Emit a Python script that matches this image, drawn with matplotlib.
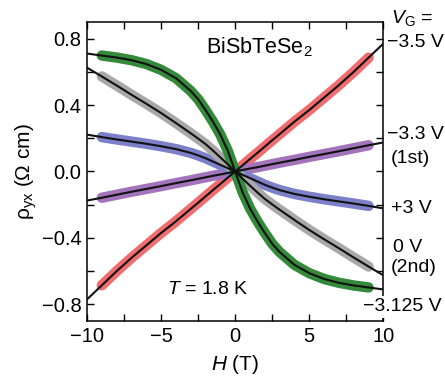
import numpy as np
import matplotlib
matplotlib.use("Agg")
import matplotlib.pyplot as plt
from matplotlib.ticker import MultipleLocator

plt.rcParams['font.family'] = ['Liberation Sans', 'DejaVu Sans']
plt.rcParams['mathtext.fontset'] = 'custom'
plt.rcParams['mathtext.rm'] = 'Liberation Sans'
plt.rcParams['mathtext.it'] = 'Liberation Sans:italic'

# field grid (T) and rho_yx (Ohm cm)
H = [-10, -9, -8, -7, -6, -5, -4, -3, -2.5, -2, -1.5, -1, -0.5, 0,
     0.5, 1, 1.5, 2, 2.5, 3, 4, 5, 6, 7, 8, 9, 10]

rho_m35 = [-0.77, -0.685, -0.60, -0.52, -0.445, -0.37, -0.30, -0.225, -0.188, -0.15, -0.112, -0.075, -0.037, 0.0,
           0.037, 0.075, 0.112, 0.15, 0.188, 0.225, 0.30, 0.37, 0.445, 0.52, 0.60, 0.685, 0.77]
rho_m33 = [-0.175, -0.158, -0.14, -0.122, -0.105, -0.088, -0.07, -0.053, -0.044, -0.035, -0.026, -0.018, -0.009, 0.0,
           0.009, 0.018, 0.026, 0.035, 0.044, 0.053, 0.07, 0.088, 0.105, 0.122, 0.14, 0.158, 0.175]
rho_p3 = [0.222, 0.207, 0.193, 0.18, 0.167, 0.152, 0.135, 0.112, 0.097, 0.08, 0.06, 0.04, 0.02, 0.0,
          -0.02, -0.04, -0.06, -0.08, -0.097, -0.112, -0.135, -0.152, -0.167, -0.18, -0.193, -0.207, -0.222]
rho_0 = [0.625, 0.572, 0.518, 0.462, 0.408, 0.352, 0.292, 0.23, 0.198, 0.165, 0.126, 0.085, 0.043, 0.0,
         -0.043, -0.085, -0.126, -0.165, -0.198, -0.23, -0.292, -0.352, -0.408, -0.462, -0.518, -0.572, -0.625]
rho_m3125 = [0.71, 0.698, 0.686, 0.67, 0.647, 0.612, 0.562, 0.485, 0.435, 0.37, 0.3, 0.222, 0.125, 0.0,
             -0.125, -0.222, -0.3, -0.37, -0.435, -0.485, -0.562, -0.612, -0.647, -0.67, -0.686, -0.698, -0.71]

series = [
    (rho_m35, '#f06c6e'),
    (rho_m33, '#a374bb'),
    (rho_p3, '#7c80c8'),
    (rho_0, '#a9a9a9'),
    (rho_m3125, '#348a3a'),
]

fig = plt.figure(figsize=(4.45, 3.79), dpi=100)
ax = fig.add_axes([0.1955, 0.153, 0.666, 0.789])

H = np.array(H)
meas = np.abs(H) <= 9
for rho, col in series:
    rho = np.array(rho)
    ax.plot(H[meas], rho[meas], color=col, lw=7.5, solid_capstyle='round', zorder=2)
for rho, col in series:
    ax.plot(H, rho, color='#111111', lw=1.5, zorder=3)

ax.set_xlim(-10, 10)
ax.set_ylim(-0.9, 0.9)
ax.xaxis.set_major_locator(MultipleLocator(5))
ax.xaxis.set_minor_locator(MultipleLocator(2.5))
ax.yaxis.set_major_locator(MultipleLocator(0.4))
ax.yaxis.set_minor_locator(MultipleLocator(0.2))
ax.tick_params(which='both', direction='in', top=True, right=True, labelsize=14.5, width=1)
ax.tick_params(which='major', length=5, pad=4)
ax.tick_params(which='minor', length=5)
ax.set_yticklabels([f'{v:.1f}'.replace('-', '\u2212') for v in ax.get_yticks()])
ax.set_xticklabels([f'{v:.0f}'.replace('-', '\u2212') for v in ax.get_xticks()])
for s in ax.spines.values():
    s.set_linewidth(1.1)

ax.set_xlabel('$H$ (T)', fontsize=15, labelpad=5)
ax.set_ylabel('ρ$_{\\mathrm{yx}}$ (Ω cm)', fontsize=15, labelpad=2)

ax.text(0.40, 0.916, 'BiSbTeSe$_2$', transform=ax.transAxes, fontsize=15.5, va='center')
ax.text(0.27, 0.107, '$T$ = 1.8 K', transform=ax.transAxes, fontsize=14, va='center')

fs = 14
fig.text(0.878, 0.952, '$V_{\\mathrm{G}}$ =', fontsize=fs, va='center')
fig.text(0.869, 0.887, '\u22123.5 V', fontsize=fs, va='center')
fig.text(0.869, 0.644, '\u22123.3 V', fontsize=fs, va='center')
fig.text(0.878, 0.583, '(1st)', fontsize=fs, va='center')
fig.text(0.878, 0.451, '+3 V', fontsize=fs, va='center')
fig.text(0.884, 0.348, '0 V', fontsize=fs, va='center')
fig.text(0.878, 0.293, '(2nd)', fontsize=fs, va='center')
# this label sits over the right spine with a white background in the original
fig.text(0.993, 0.190, '\u22123.125 V', fontsize=fs, va='center', ha='right', zorder=10,
         bbox=dict(facecolor='white', edgecolor='none', pad=1.5))

fig.savefig('out.png', dpi=100)
